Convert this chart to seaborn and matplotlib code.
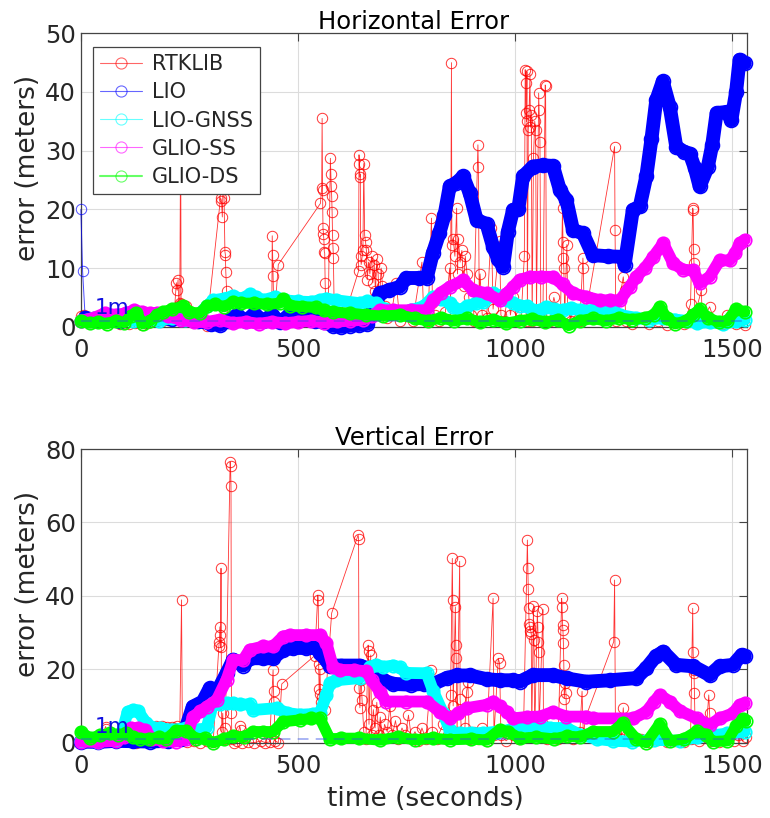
import matplotlib
matplotlib.use("Agg")
import matplotlib.pyplot as plt
import seaborn as sns
from matplotlib.lines import Line2D

# ---------------- data ----------------
series_names = ["RTKLIB", "LIO", "LIO-GNSS", "GLIO-SS", "GLIO-DS"]
x_ticks = [0, 500, 1000, 1500]
y_ticks_h = [0, 10, 20, 30, 40, 50]
y_ticks_v = [0, 20, 40, 60, 80]

# Horizontal error
t_rtk_h = [0, 4, 8, 12, 18, 25, 40, 55, 70, 90, 110, 125, 140, 155, 170, 185, 200, 215, 220, 222, 224, 226, 228, 230, 231, 234, 243, 255, 270, 290,
           322, 324, 326, 328, 330, 332, 333, 334, 336, 338, 350, 365, 380, 400, 420, 440, 441, 442, 443, 444, 446, 455,
           552, 555, 556, 557, 558, 559, 560, 561, 562, 563, 565, 570, 575, 576, 577, 578, 579, 580, 581, 582, 584, 590, 600, 612,
           640, 641, 642, 643, 644, 645, 646, 650, 652, 654, 656, 658, 660, 663, 666, 670, 673, 676, 679, 682, 685, 688, 692, 695, 700,
           706, 715, 727, 735, 750, 765, 786, 790, 800, 808, 809, 810, 815, 825, 840, 850, 852, 854, 855, 858, 862, 866, 868, 870, 874,
           878, 882, 886, 890, 894, 898, 905, 915, 916, 918, 920, 925, 935, 946, 950, 965, 968, 975, 985, 990, 996, 1005, 1015, 1022,
           1024, 1025, 1026, 1027, 1028, 1029, 1031, 1033, 1035, 1036, 1038, 1040, 1043, 1046, 1048, 1050, 1055, 1056, 1058, 1060,
           1065, 1070, 1071, 1073, 1080, 1090, 1100, 1105, 1110, 1111, 1112, 1113, 1115, 1120, 1122, 1130, 1140, 1150, 1157, 1158,
           1160, 1170, 1230, 1231, 1233, 1250, 1253, 1256, 1270, 1290, 1310, 1330, 1350, 1370, 1390, 1405, 1410, 1411, 1412, 1413,
           1415, 1430, 1432, 1449, 1460, 1480, 1490, 1500, 1510, 1520, 1530]
e_rtk_h = [1.8, 1.5, 2.0, 1.2, 1.6, 0.8, 1.0, 0.6, 0.9, 0.5, 0.4, 0.7, 0.3, 0.6, 1.0, 0.8, 1.2, 2.0, 7.5, 6.2, 8.0, 3.5, 4.0, 35.0, 3.8, 1.5, 3.5, 0.8, 0.6, 0.2,
           22.0, 21.5, 18.7, 25.0, 22.0, 12.8, 12.3, 9.4, 6.0, 1.5, 1.0, 2.0, 1.5, 2.2, 1.2, 1.8, 15.5, 12.3, 8.7, 5.0, 1.5, 10.6,
           21.0, 23.6, 35.5, 23.3, 16.8, 15.8, 14.9, 12.8, 12.5, 7.4, 1.0, 2.0, 28.7, 26.1, 24.0, 22.3, 19.6, 15.6, 13.4, 11.7, 2.0, 1.2, 0.8, 2.8,
           9.5, 29.3, 27.8, 25.5, 26.0, 12.0, 10.6, 13.0, 27.8, 15.6, 14.5, 13.0, 8.0, 11.0, 9.0, 12.0, 7.5, 10.5, 6.0, 11.5, 9.0, 4.0, 10.0, 7.0, 3.5,
           1.5, 2.0, 7.4, 1.0, 2.0, 1.0, 11.0, 2.0, 1.0, 18.5, 13.0, 4.0, 2.0, 1.0, 2.5, 10.0, 4.0, 45.0, 14.0, 15.0, 12.0, 20.2, 9.0, 15.0, 11.0,
           13.0, 7.0, 12.0, 9.0, 5.0, 2.0, 1.0, 31.0, 27.3, 5.0, 9.0, 2.0, 1.5, 16.8, 3.0, 14.6, 2.0, 1.0, 6.0, 2.0, 5.0, 1.0, 2.0, 12.0,
           43.8, 41.5, 36.4, 35.0, 43.5, 1.0, 33.5, 37.0, 43.0, 34.0, 36.0, 1.0, 28.7, 35.0, 33.5, 2.0, 39.8, 37.0, 31.5, 1.0,
           3.0, 41.2, 41.0, 2.0, 1.0, 5.0, 2.0, 1.0, 20.2, 14.5, 11.7, 10.0, 2.0, 14.0, 3.0, 1.0, 2.0, 1.0, 11.7, 10.0,
           2.0, 5.0, 30.7, 16.5, 1.0, 8.5, 6.2, 1.0, 0.5, 1.5, 0.5, 1.0, 0.3, 1.0, 0.5, 3.9, 20.2, 19.9, 13.3, 10.8,
           2.0, 6.2, 1.0, 3.4, 1.0, 0.5, 2.0, 1.8, 0.5, 1.0, 0.3]

t_lio_h = [0, 4, 10, 30, 60, 90, 120, 150, 180, 210, 240, 270, 300, 320, 340, 360, 380, 400, 420, 440, 460, 480, 500, 520, 540, 560, 580,
           600, 620, 640, 660, 672, 689, 710, 735, 750, 780, 797, 811, 826, 838, 850, 865, 881, 896, 912, 935, 950, 962, 973, 984, 996,
           1008, 1019, 1042, 1065, 1088, 1104, 1119, 1134, 1157, 1180, 1215, 1249, 1253, 1272, 1288, 1303, 1315, 1326, 1341, 1357,
           1372, 1390, 1403, 1415, 1426, 1445, 1455, 1465, 1488, 1499, 1510, 1518, 1530]
e_lio_h = [20.0, 9.5, 1.5, 1.2, 1.5, 1.0, 1.8, 1.2, 1.5, 1.3, 1.5, 1.0, 0.5, 0.3, 1.0, 2.0, 1.0, 2.2, 1.0, 2.0, 0.8, 2.0, 1.5, 2.0, 1.0, 0.8, 0.2,
           0.0, 0.2, 0.3, 0.5, 2.5, 5.7, 6.2, 6.8, 8.3, 8.3, 8.3, 12.5, 15.9, 19.0, 23.9, 24.5, 25.6, 22.8, 18.2, 17.5, 13.6, 11.5, 10.2, 16.2, 19.9,
           20.0, 25.6, 27.3, 27.5, 27.4, 23.3, 21.6, 16.5, 15.9, 12.2, 12.0, 11.9, 10.5, 19.9, 20.5, 25.6, 32.0, 38.6, 41.8, 37.5,
           30.7, 29.8, 29.5, 27.0, 23.9, 27.3, 31.0, 36.4, 36.6, 35.2, 40.0, 45.5, 44.9]

t_gnss_h = [0, 30, 60, 90, 120, 150, 180, 210, 240, 270, 290, 305, 330, 350, 370, 390, 404, 420, 448, 470, 500, 530, 551, 565, 589, 643,
            660, 681, 700, 730, 760, 790, 812, 830, 850, 858, 873, 890, 910, 927, 935, 950, 965, 981, 996, 1011, 1027, 1042, 1058, 1073,
            1090, 1110, 1130, 1150, 1180, 1210, 1226, 1242, 1280, 1310, 1341, 1370, 1396, 1420, 1450, 1480, 1510, 1530]
e_gnss_h = [1.0, 1.5, 1.2, 1.8, 1.0, 1.3, 1.0, 1.5, 1.2, 2.0, 3.5, 4.5, 4.8, 5.2, 4.8, 5.5, 5.0, 4.5, 5.1, 4.5, 4.3, 4.2, 4.5, 4.8, 4.5, 4.0,
            4.3, 4.0, 3.0, 2.5, 2.8, 3.5, 5.1, 4.8, 4.0, 3.4, 2.8, 3.5, 4.0, 4.2, 5.1, 5.7, 5.3, 4.5, 4.1, 3.6, 3.5, 2.8, 2.8, 3.4,
            3.0, 2.8, 3.2, 2.8, 2.8, 2.5, 2.8, 2.0, 1.5, 1.2, 1.5, 1.2, 1.0, 0.6, 0.8, 0.5, 0.9, 1.2]

t_ss_h = [0, 30, 55, 80, 104, 123, 140, 160, 176, 200, 230, 260, 290, 320, 350, 380, 410, 440, 470, 500, 530, 560, 590, 620, 650, 670,
          689, 720, 760, 797, 812, 830, 850, 881, 904, 935, 965, 980, 996, 1011, 1035, 1060, 1088, 1110, 1134, 1165, 1196, 1220, 1242,
          1265, 1280, 1300, 1319, 1342, 1365, 1388, 1411, 1426, 1449, 1472, 1495, 1508, 1518, 1530]
e_ss_h = [1.0, 1.5, 2.3, 2.0, 2.3, 2.8, 2.5, 2.3, 2.3, 1.8, 1.2, 0.8, 0.8, 1.2, 0.6, 0.8, 0.5, 0.8, 0.6, 0.8, 1.0, 0.7, 0.9, 1.0, 1.2, 1.8,
          2.8, 2.8, 2.8, 2.8, 4.5, 5.8, 6.8, 7.9, 6.2, 5.7, 4.5, 5.5, 6.8, 8.0, 8.5, 8.5, 8.5, 7.2, 5.7, 5.1, 4.5, 4.5, 4.5,
          6.8, 8.5, 10.0, 11.9, 14.2, 10.8, 9.7, 9.6, 7.4, 8.5, 11.3, 11.3, 12.5, 14.2, 14.8]

t_ds_h = [0, 20, 40, 60, 80, 100, 115, 128, 143, 160, 175, 190, 210, 236, 250, 274, 290, 310, 330, 351, 370, 400, 430, 458, 466, 481,
          510, 543, 560, 581, 620, 658, 696, 735, 770, 800, 830, 860, 890, 920, 950, 980, 1011, 1040, 1070, 1100, 1124, 1150, 1180,
          1210, 1240, 1270, 1300, 1320, 1334, 1350, 1370, 1395, 1411, 1426, 1445, 1470, 1490, 1510, 1530]
e_ds_h = [1.0, 0.6, 0.8, 0.5, 1.0, 0.7, 1.8, 2.3, 0.5, 1.0, 2.0, 2.5, 3.0, 3.5, 2.5, 2.3, 3.5, 3.8, 3.4, 4.2, 4.0, 4.0, 3.8, 4.0, 4.8, 3.6,
          3.4, 3.3, 2.8, 2.5, 2.3, 2.0, 1.8, 2.0, 1.4, 1.0, 1.5, 1.0, 1.4, 0.8, 1.2, 0.6, 1.0, 1.3, 0.8, 1.2, 0.2, 1.0, 1.4,
          1.0, 1.5, 1.2, 1.5, 2.0, 3.4, 1.5, 0.5, 1.0, 2.0, 3.0, 1.5, 0.8, 1.0, 3.0, 2.5]

# Vertical error
t_rtk_v = [0, 15, 30, 45, 57, 59, 62, 80, 100, 126, 140, 160, 174, 180, 186, 192, 198, 204, 210, 216, 222, 228, 232, 234, 245, 260, 275,
           290, 305, 318, 319, 320, 321, 322, 323, 324, 325, 327, 329, 333, 344, 345, 346, 347, 348, 352, 360, 366, 368, 372, 385, 400,
           415, 425, 435, 443, 444, 445, 448, 455, 463, 539, 546, 547, 548, 549, 550, 551, 553, 556, 560, 562, 578, 639, 640, 641, 643,
           645, 646, 648, 652, 657, 662, 663, 664, 668, 670, 674, 678, 682, 686, 690, 695, 700, 706, 712, 718, 725, 732, 740, 748, 755,
           762, 770, 778, 786, 795, 808, 810, 820, 835, 845, 852, 856, 857, 858, 863, 864, 865, 867, 873, 874, 877, 885, 889, 892, 895,
           905, 915, 925, 935, 950, 952, 962, 965, 968, 980, 995, 1010, 1020, 1029, 1030, 1031, 1032, 1033, 1035, 1036, 1038, 1039,
           1043, 1044, 1046, 1052, 1053, 1054, 1055, 1056, 1065, 1066, 1075, 1090, 1100, 1108, 1109, 1110, 1111, 1112, 1113, 1114,
           1116, 1118, 1120, 1135, 1150, 1155, 1158, 1163, 1228, 1230, 1232, 1245, 1250, 1253, 1270, 1290, 1310, 1330, 1350, 1370,
           1390, 1405, 1410, 1411, 1412, 1413, 1414, 1416, 1425, 1440, 1447, 1449, 1452, 1470, 1490, 1505, 1515, 1525, 1532]
e_rtk_v = [0.5, 0.3, 1.0, 0.5, 4.4, 3.8, 0.8, 0.3, 0.5, 0.0, 0.4, 0.6, 4.6, 3.9, 4.5, 3.8, 4.4, 3.6, 4.4, 4.0, 4.5, 3.8, 38.9, 1.0, 0.2, 0.5, 0.0,
           0.4, 0.2, 26.2, 27.3, 29.2, 31.6, 26.0, 47.5, 11.2, 3.0, 8.0, 1.0, 4.0, 76.5, 75.3, 70.0, 8.0, 1.0, 0.0, 0.5, 4.6, 3.5, 0.0, 0.2, 0.0,
           0.5, 0.0, 0.2, 19.8, 14.0, 11.0, 0.5, 0.0, 16.0, 23.7, 40.2, 39.0, 21.5, 14.5, 13.2, 20.0, 11.0, 12.5, 13.0, 9.0, 35.3, 56.6, 55.6, 15.0, 9.5,
           19.2, 17.0, 11.7, 3.0, 1.0, 26.6, 25.0, 5.0, 23.9, 2.0, 9.0, 4.0, 11.0, 2.0, 7.0, 1.0, 5.0, 3.0, 10.0, 2.0, 6.0, 1.0, 4.0, 2.0, 7.5,
           1.0, 3.0, 0.5, 4.0, 1.0, 19.8, 3.0, 1.0, 5.0, 2.0, 13.0, 50.2, 38.9, 10.0, 37.0, 26.5, 23.0, 3.0, 49.4, 12.0, 2.0, 4.0, 13.9, 16.5, 1.0,
           3.0, 1.0, 4.0, 0.5, 39.3, 2.0, 23.0, 21.6, 2.0, 0.5, 2.0, 1.0, 3.0, 55.2, 47.6, 41.8, 36.8, 32.3, 30.5, 31.5, 29.5, 2.0,
           37.2, 28.0, 3.0, 35.9, 31.4, 27.5, 24.6, 4.0, 36.3, 5.0, 1.0, 3.0, 1.0, 39.3, 37.0, 32.0, 30.6, 27.1, 21.2, 12.0,
           16.3, 13.4, 2.0, 1.0, 3.0, 14.0, 2.0, 6.8, 27.5, 44.3, 2.0, 1.0, 9.5, 1.5, 0.5, 1.0, 0.3, 0.8, 0.2, 0.5,
           0.3, 1.0, 36.6, 24.6, 19.8, 19.1, 13.4, 2.0, 0.5, 1.5, 13.0, 8.0, 0.5, 0.3, 1.0, 0.5, 2.0, 0.5, 1.5]

t_lio_v = [0, 40, 80, 120, 160, 200, 230, 243, 258, 281, 297, 312, 336, 351, 374, 390, 420, 443, 466, 489, 520, 543, 551, 574, 600, 643,
           658, 674, 697, 720, 760, 790, 812, 843, 866, 897, 935, 965, 996, 1011, 1042, 1088, 1120, 1165, 1220, 1280, 1303, 1325, 1342,
           1372, 1411, 1449, 1472, 1503, 1523, 1530]
e_lio_v = [0.3, 0.2, 0.5, 0.4, 0.3, 0.5, 1.0, 4.4, 9.8, 11.2, 14.8, 13.5, 18.9, 22.6, 21.0, 23.0, 23.0, 23.0, 25.3, 25.8, 25.8, 25.8, 24.5, 21.0, 21.0, 21.0,
           20.3, 18.4, 17.0, 16.0, 15.8, 16.0, 16.0, 17.6, 18.3, 18.3, 17.3, 17.0, 17.0, 16.6, 18.4, 18.4, 17.5, 16.6, 17.0, 17.6, 20.3, 23.5, 24.8,
           21.2, 20.8, 18.4, 20.8, 21.2, 23.9, 23.5]

t_gnss_v = [0, 40, 80, 95, 108, 120, 131, 151, 161, 182, 210, 243, 270, 290, 305, 320, 336, 351, 366, 389, 397, 451, 474, 505, 536, 551,
            566, 574, 589, 643, 666, 681, 696, 719, 735, 750, 797, 812, 835, 850, 866, 873, 900, 927, 960, 990, 1019, 1058, 1081, 1119,
            1150, 1190, 1226, 1270, 1320, 1380, 1420, 1457, 1490, 1530]
e_gnss_v = [0.5, 0.3, 0.8, 3.0, 8.4, 8.9, 8.7, 5.3, 4.2, 4.0, 3.5, 4.0, 3.5, 4.0, 10.8, 10.5, 10.8, 10.8, 10.4, 10.4, 8.9, 9.4, 8.1, 7.6, 7.8, 8.1,
            13.0, 16.2, 17.0, 17.6, 20.7, 21.2, 20.6, 21.0, 20.5, 19.0, 18.9, 14.0, 8.0, 3.5, 1.5, 2.6, 2.6, 2.6, 3.0, 3.5, 4.4, 4.4, 4.0, 4.0,
            2.2, 1.0, 0.5, 0.3, 0.8, 0.5, 1.5, 2.0, 2.5, 3.0]

t_ss_v = [0, 40, 80, 100, 115, 131, 147, 165, 190, 220, 243, 258, 275, 290, 313, 336, 351, 374, 389, 420, 443, 466, 481, 520, 551, 566,
          581, 597, 630, 658, 670, 689, 704, 750, 797, 827, 850, 870, 889, 935, 950, 965, 981, 996, 1027, 1058, 1088, 1119, 1165, 1180,
          1273, 1303, 1320, 1334, 1357, 1380, 1419, 1449, 1472, 1503, 1518, 1530]
e_ss_v = [0.3, 0.2, 0.5, 1.5, 3.9, 4.0, 3.5, 1.0, 0.5, 0.3, 1.0, 7.0, 8.5, 9.8, 11.6, 17.2, 22.5, 22.5, 25.3, 26.2, 26.2, 28.9, 29.3, 29.3, 29.3, 27.1,
          20.7, 19.8, 19.8, 19.4, 17.0, 13.9, 11.2, 11.2, 11.2, 8.4, 6.6, 8.0, 9.4, 10.3, 11.2, 10.0, 8.4, 6.6, 7.0, 7.1, 8.4, 7.1, 7.1, 6.6,
          6.6, 8.4, 11.0, 13.0, 11.2, 8.7, 6.6, 4.8, 6.6, 8.0, 10.3, 10.7]

t_ds_v = [0, 21, 44, 67, 85, 105, 120, 136, 158, 180, 197, 220, 243, 266, 285, 305, 330, 351, 375, 397, 420, 443, 466, 505, 530, 551, 574,
          600, 640, 689, 730, 770, 812, 850, 900, 935, 965, 985, 1011, 1050, 1090, 1120, 1150, 1180, 1226, 1249, 1280, 1303, 1334, 1357,
          1390, 1419, 1440, 1457, 1490, 1510, 1526, 1532]
e_ds_v = [3.0, 1.2, 2.0, 2.5, 2.2, 2.5, 1.5, 1.0, 1.0, 1.5, 1.0, 3.3, 3.3, 1.0, 1.2, 0.0, 1.0, 1.8, 1.5, 3.0, 3.0, 3.0, 5.7, 6.2, 6.6, 6.6, 1.0,
          1.2, 1.2, 0.7, 1.5, 0.8, 1.2, 0.8, 1.0, 0.7, 3.5, 3.0, 1.2, 1.5, 1.0, 1.8, 1.5, 3.0, 3.0, 5.3, 1.0, 0.0, 5.1, 0.5,
          1.0, 3.1, 2.2, 0.3, 0.5, 4.5, 6.5, 5.8]

# ---------------- styling ----------------
sns.set_style("white")
plt.rcParams['font.family'] = ['DejaVu Sans']

COL = {"RTKLIB": "#ff0000", "LIO": "#0000ff", "LIO-GNSS": "#00ffff",
       "GLIO-SS": "#ff00ff", "GLIO-DS": "#00ff00"}
TXT = "#262626"

fig = plt.figure(figsize=(7.70, 8.18), dpi=100)
ax1 = fig.add_axes([0.105, 0.6006, 0.8645, 0.3587])
ax2 = fig.add_axes([0.105, 0.0921, 0.8645, 0.3590])


def red(ax, t, v):
    sns.lineplot(x=t, y=v, ax=ax, color=COL["RTKLIB"], linewidth=0.6, alpha=0.8,
                 marker='o', markersize=7.5, markerfacecolor='none',
                 markeredgecolor=COL["RTKLIB"], markeredgewidth=0.7,
                 sort=False, estimator=None, clip_on=False, legend=False, zorder=2)


def band(ax, t, v, color, lw=8.5, ms=9, z=3):
    sns.lineplot(x=t, y=v, ax=ax, color=color, linewidth=lw,
                 marker='o', markersize=ms, markerfacecolor='none',
                 markeredgecolor=color, markeredgewidth=1.2,
                 solid_joinstyle='round', solid_capstyle='round',
                 sort=False, estimator=None, clip_on=False, legend=False, zorder=z)


def thin(ax, t, v, color):
    sns.lineplot(x=t, y=v, ax=ax, color=color, linewidth=0.7, alpha=0.7,
                 marker='o', markersize=7.5, markerfacecolor='none',
                 markeredgecolor=color, markeredgewidth=0.7,
                 sort=False, estimator=None, clip_on=False, legend=False, zorder=3)


# top panel
red(ax1, t_rtk_h, e_rtk_h)
thin(ax1, t_lio_h[:3], e_lio_h[:3], COL["LIO"])
band(ax1, t_lio_h[2:], e_lio_h[2:], COL["LIO"], lw=10, ms=10, z=3)
band(ax1, t_gnss_h, e_gnss_h, COL["LIO-GNSS"], z=4)
band(ax1, t_ss_h, e_ss_h, COL["GLIO-SS"], z=5)
band(ax1, t_ds_h, e_ds_h, COL["GLIO-DS"], lw=8, z=6)

# bottom panel
red(ax2, t_rtk_v, e_rtk_v)
band(ax2, t_lio_v, e_lio_v, COL["LIO"], lw=10, ms=10, z=3)
band(ax2, t_gnss_v, e_gnss_v, COL["LIO-GNSS"], z=4)
band(ax2, t_ss_v, e_ss_v, COL["GLIO-SS"], z=5)
band(ax2, t_ds_v, e_ds_v, COL["GLIO-DS"], lw=8, z=6)

for ax, yt, title in [(ax1, y_ticks_h, "Horizontal Error"), (ax2, y_ticks_v, "Vertical Error")]:
    ax.axhline(1, color=(0.2, 0.3, 0.9), alpha=0.45, lw=1.3, ls=(0, (6, 4)), zorder=8)
    ax.text(33, 1.4 if ax is ax1 else 1.6, "1m", color="#1010e0", fontsize=15.5,
            ha='left', va='bottom', zorder=9)
    ax.set_xlim(0, 1534)
    ax.set_ylim(yt[0], yt[-1])
    ax.set_xticks(x_ticks)
    ax.set_yticks(yt)
    ax.grid(True, color="#dcdcdc", lw=0.8)
    ax.set_axisbelow(True)
    ax.tick_params(direction='in', length=6, width=0.8, top=True, right=True,
                   labelsize=17.5, colors=TXT, color="#444444")
    ax.tick_params(axis='x', pad=8)
    ax.tick_params(axis='y', pad=3.5)
    for s in ax.spines.values():
        s.set_color("#444444")
        s.set_linewidth(0.9)
    ax.set_title(title, fontsize=17.5, color="black", pad=3)
    ax.set_ylabel("error (meters)", fontsize=19, color=TXT)
    ax.yaxis.set_label_coords(-0.060, 0.54)
    ax.set_xlabel("")

ax2.set_xlabel("time (seconds)", fontsize=19, color=TXT)
ax2.xaxis.set_label_coords(0.518, -0.147)

handles = [Line2D([0], [0], color=COL[n], lw=0.8 if n != "GLIO-DS" else 1.5, alpha=0.6,
                  marker='o', markersize=8, markerfacecolor='none',
                  markeredgecolor=COL[n], markeredgewidth=0.8)
           for n in series_names]
leg = ax1.legend(handles, series_names, loc='upper left', bbox_to_anchor=(0.018, 0.953),
                 borderaxespad=0, fontsize=15, frameon=True, fancybox=False,
                 framealpha=1, edgecolor="#444444", handlelength=2.0,
                 handletextpad=0.5, labelspacing=0.39, borderpad=0.35)
leg.get_frame().set_linewidth(0.9)
leg.set_zorder(20)

fig.savefig("out.png", dpi=100)
